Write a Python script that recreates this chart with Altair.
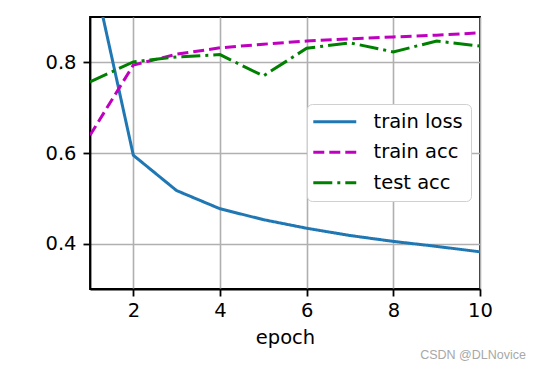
import altair as alt
import pandas as pd

epochs = [1, 2, 3, 4, 5, 6, 7, 8, 9, 10]
train_loss = [1.03, 0.595, 0.517, 0.477, 0.453, 0.434, 0.418, 0.405, 0.394, 0.382]
train_acc = [0.639, 0.794, 0.818, 0.832, 0.840, 0.847, 0.852, 0.856, 0.860, 0.865]
test_acc = [0.757, 0.801, 0.812, 0.817, 0.770, 0.831, 0.843, 0.823, 0.847, 0.836]
series_names = ["train loss", "train acc", "test acc"]
series_colors = ["#1f77b4", "#bf00bf", "#008000"]
series_dashes = [[1, 0], [11, 5], [19, 5, 3, 5]]
watermark = ["CSDN @DLNovice"]

rows = []
for name, vals in zip(series_names, [train_loss, train_acc, test_acc]):
    for e, v in zip(epochs, vals):
        rows.append({"epoch": e, "value": v, "series": name})
df = pd.DataFrame(rows)

FONT = "DejaVu Sans"

lines = alt.Chart(df).mark_line(strokeWidth=3, clip=True).encode(
    x=alt.X("epoch:Q", title="epoch",
            scale=alt.Scale(domain=[1, 10], nice=False, zero=False),
            axis=alt.Axis(values=[2, 4, 6, 8, 10], format="d", labelFlush=False)),
    y=alt.Y("value:Q", title=None,
            scale=alt.Scale(domain=[0.3, 0.9], nice=False, zero=False),
            axis=alt.Axis(values=[0.4, 0.6, 0.8], format=".1f", labelFlush=False,
                          labelPadding=7)),
    color=alt.Color("series:N", title=None,
                    scale=alt.Scale(domain=series_names, range=series_colors),
                    legend=alt.Legend(orient="none", legendX=217, legendY=87)),
    strokeDash=alt.StrokeDash("series:N", title=None,
                              scale=alt.Scale(domain=series_names, range=series_dashes)),
    detail="series:N",
)

wm = alt.Chart(pd.DataFrame({"t": watermark})).mark_text(
    align="right", baseline="middle", fontSize=12.5, font="Liberation Sans",
    color="#a8a8a8"
).encode(text="t:N", x=alt.value(436), y=alt.value(338))

chart = alt.layer(lines, wm).properties(
    width=390, height=272,
    autosize=alt.AutoSizeParams(type="none"),
    padding={"left": 82, "top": 9, "right": 54, "bottom": 74},
).configure_view(
    stroke="black", strokeWidth=1.8
).configure_axis(
    domainColor="black", domainWidth=1.8,
    tickColor="black", tickWidth=1.8, tickSize=7,
    labelFont=FONT, labelFontSize=19.5, labelColor="black", labelPadding=5,
    titleFont=FONT, titleFontSize=19.5, titleColor="black", titleFontWeight="normal",
    titlePadding=9,
    grid=True, gridColor="#b0b0b0", gridWidth=1.6,
).configure_legend(
    symbolType="M-1.6,0H4.4", symbolSize=205, symbolStrokeWidth=3,
    symbolFillColor="transparent",
    labelFontSize=19.5, labelFont=FONT, labelColor="black",
    labelOffset=39, rowPadding=9.5, padding=8,
    cornerRadius=5, strokeColor="#d0d0d0", fillColor="white",
    labelLimit=300,
)

chart.save("out.html", embed_options={"renderer": "svg", "actions": False})
